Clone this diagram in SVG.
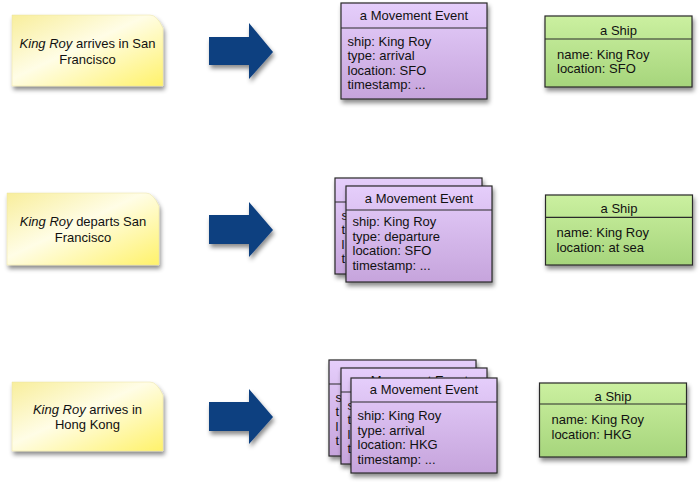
<svg xmlns="http://www.w3.org/2000/svg" width="700" height="486" viewBox="0 0 700 486">
<defs>
<linearGradient id="gNote" x1="0" y1="0" x2="1" y2="1">
<stop offset="0" stop-color="#f8ee9c"/>
<stop offset="0.45" stop-color="#fffde6"/>
<stop offset="1" stop-color="#fff26a"/>
</linearGradient>
<linearGradient id="gEvent" x1="0" y1="0" x2="0" y2="1">
<stop offset="0" stop-color="#e5cefb"/>
<stop offset="1" stop-color="#c6a4dc"/>
</linearGradient>
<linearGradient id="gShip" x1="0" y1="0" x2="0" y2="1">
<stop offset="0" stop-color="#cbf0a0"/>
<stop offset="1" stop-color="#a6d57c"/>
</linearGradient>
<filter id="sh" x="-20%" y="-20%" width="150%" height="160%">
<feDropShadow dx="1.5" dy="3.5" stdDeviation="2" flood-color="#000" flood-opacity="0.45"/>
</filter>
</defs>
<style>
text{font-family:"Liberation Sans",Arial,sans-serif;font-size:13px;fill:#111}
.c{text-anchor:middle}
.i{font-style:italic}
.note{fill:url(#gNote);stroke:#e8e0a0;stroke-width:0.5;filter:url(#sh)}
.ev{fill:url(#gEvent);stroke:#2a2a2a;stroke-width:1.2;filter:url(#sh)}
.ship{fill:url(#gShip);stroke:#2a2a2a;stroke-width:1.2;filter:url(#sh)}
.div{stroke:#2a2a2a;stroke-width:1.2}
.arrow{fill:#0b3f80;filter:url(#sh)}
</style>

<g id="note1">
<path class="note" d="M12,15 H150 Q157,15 163,28 V86 H12 Z"/>
<text class="c" x="87.5" y="48"><tspan class="i">King Roy</tspan> arrives in San</text>
<text class="c" x="87.5" y="63.5">Francisco</text>
</g>
<g id="note2">
<path class="note" d="M7,193 H146 Q153,193 159,206 V265 H7 Z"/>
<text class="c" x="83" y="226"><tspan class="i">King Roy</tspan> departs San</text>
<text class="c" x="83" y="241.5">Francisco</text>
</g>
<g id="note3">
<path class="note" d="M12,382 H150 Q157,382 163,395 V451 H12 Z"/>
<text class="c" x="87.5" y="413.5"><tspan class="i">King Roy</tspan> arrives in</text>
<text class="c" x="87.5" y="429">Hong Kong</text>
</g>

<g id="connectors">
<path class="arrow" d="M209,37 H249 V23 L273,52 L249,79 V65 H209 Z"/>
<path class="arrow" d="M209,215 H249 V202 L273,230 L249,257 V244 H209 Z"/>
<path class="arrow" d="M209,402 H249 V389 L273,417 L249,444 V431 H209 Z"/>
</g>

<g id="event1" transform="translate(341,3)">
<rect class="ev" width="146" height="96"/>
<line class="div" x1="0" y1="25" x2="146" y2="25"/>
<text class="c" x="73" y="17">a Movement Event</text>
<text x="6.5" y="42.5">ship: King Roy</text>
<text x="6.5" y="57">type: arrival</text>
<text x="6.5" y="71.5">location: SFO</text>
<text x="6.5" y="86">timestamp: ...</text>
</g>

<g id="event2a" transform="translate(335,178)">
<rect class="ev" width="147" height="96"/>
<line class="div" x1="0" y1="24" x2="147" y2="24"/>
<text x="6.5" y="41.5">s</text>
<text x="6.5" y="56">t</text>
<text x="6.5" y="70.5">l</text>
<text x="6.5" y="85">t</text>
</g>
<g id="event2b" transform="translate(346,186)">
<rect class="ev" width="146" height="96"/>
<line class="div" x1="0" y1="24" x2="146" y2="24"/>
<text class="c" x="73" y="16.5">a Movement Event</text>
<text x="6.5" y="40">ship: King Roy</text>
<text x="6.5" y="54.5">type: departure</text>
<text x="6.5" y="69">location: SFO</text>
<text x="6.5" y="83.5">timestamp: ...</text>
</g>

<g id="event3a" transform="translate(329,360)">
<rect class="ev" width="147" height="96"/>
<line class="div" x1="0" y1="24" x2="147" y2="24"/>
<text x="6.5" y="41.5">s</text>
<text x="6.5" y="56">t</text>
<text x="6.5" y="70.5">l</text>
<text x="6.5" y="85">t</text>
</g>
<g id="event3b" transform="translate(341,368)">
<rect class="ev" width="146" height="96"/>
<line class="div" x1="0" y1="24" x2="146" y2="24"/>
<text class="c" x="73" y="16.5">a Movement Event</text>
<text x="6.5" y="41.5">s</text>
<text x="6.5" y="56">t</text>
<text x="6.5" y="70.5">l</text>
<text x="6.5" y="85">t</text>
</g>
<g id="event3c" transform="translate(351,378)">
<rect class="ev" width="146" height="95"/>
<line class="div" x1="0" y1="24" x2="146" y2="24"/>
<text class="c" x="73" y="15.5">a Movement Event</text>
<text x="6.5" y="42">ship: King Roy</text>
<text x="6.5" y="56.5">type: arrival</text>
<text x="6.5" y="71">location: HKG</text>
<text x="6.5" y="85.5">timestamp: ...</text>
</g>

<g id="ship1" transform="translate(545,16)">
<rect class="ship" width="147" height="71"/>
<line class="div" x1="0" y1="23" x2="147" y2="23"/>
<text class="c" x="73.5" y="19">a Ship</text>
<text x="12" y="42.5">name: King Roy</text>
<text x="12" y="57">location: SFO</text>
</g>
<g id="ship2" transform="translate(545.5,195)">
<rect class="ship" width="147" height="70"/>
<line class="div" x1="0" y1="22.3" x2="147" y2="22.3"/>
<text class="c" x="73.5" y="18.3">a Ship</text>
<text x="11" y="41.7">name: King Roy</text>
<text x="11" y="56.7">location: at sea</text>
</g>
<g id="ship3" transform="translate(539.5,383)">
<rect class="ship" width="147" height="74"/>
<line class="div" x1="0" y1="21" x2="147" y2="21"/>
<text class="c" x="73.5" y="17.7">a Ship</text>
<text x="12" y="41">name: King Roy</text>
<text x="12" y="56.3">location: HKG</text>
</g>
</svg>
